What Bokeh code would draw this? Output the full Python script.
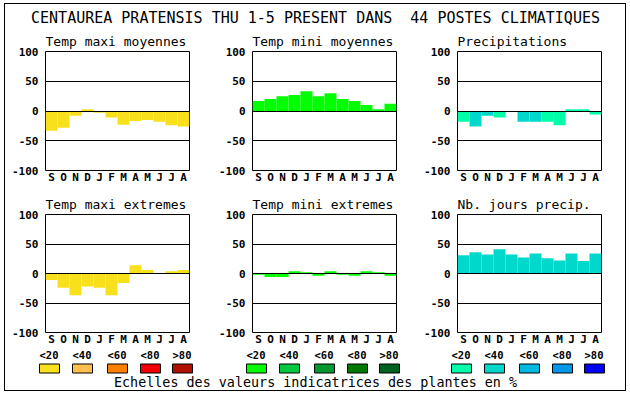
from bokeh.plotting import figure
from bokeh.layouts import column, row
from bokeh.models import Range1d, FixedTicker, ColumnDataSource
from bokeh.core.properties import value
from bokeh.embed import file_html
from bokeh.resources import INLINE

# ---------------- data ----------------
MAIN_TITLE = "CENTAUREA PRATENSIS THU 1-5 PRESENT DANS \u00a044 POSTES CLIMATIQUES"
FOOTER = "Echelles des valeurs indicatrices des plantes en %"
MONTHS = ["S", "O", "N", "D", "J", "F", "M", "A", "M", "J", "J", "A"]
Y_TICKS = [-100, -50, 0, 50, 100]
Y_TICK_LABELS = ["-100", "-50", "0", "50", "100"]
LEGEND_LABELS = ["<20", "<40", "<60", "<80", ">80"]

PANEL_TITLES = ["Temp maxi moyennes", "Temp mini moyennes", "Precipitations",
                "Temp maxi extremes", "Temp mini extremes", "Nb. jours precip."]

tmax_moy = [-33, -28, -8, 3, -3, -11, -23, -17, -15, -18, -24, -26]
tmin_moy = [17, 20, 25, 27, 33, 25, 30, 20, 17, 10, 3, 12]
precip = [-18, -26, -8, -11, 0, -18, -18, -18, -24, 3, 3, -6]
tmax_ext = [-11, -24, -37, -22, -24, -37, -16, 14, 6, 0, 4, 6]
tmin_ext = [-2, -6, -6, 4, 2, -4, 4, -2, -4, 4, 2, -4]
nb_jours = [31, 36, 32, 41, 32, 27, 34, 26, 22, 34, 21, 34]

# class (0:<20 1:<40 2:<60 3:<80 4:>80) of each bar
tmax_moy_cls = [0] * 12
tmin_moy_cls = [0] * 12
precip_cls = [0, 1, 1, 0, 0, 1, 1, 0, 0, 0, 0, 0]
tmax_ext_cls = [0] * 12
tmin_ext_cls = [0] * 12
nb_jours_cls = [1] * 12

YELLOWS = ["#F8E01C", "#FFC050", "#FF8000", "#F00000", "#B01000"]
GREENS = ["#00FF00", "#00C840", "#009830", "#007800", "#006020"]
BLUES = ["#00FFA8", "#00D8CC", "#00B8E0", "#0098E8", "#0000FF"]

MONO = value("DejaVu Sans Mono")

# ---------------- layout constants ----------------
COL_W = [207, 205, 208]
LEFT_B = 40
FRAME_W = 144
RIGHT_B = [w - LEFT_B - FRAME_W for w in COL_W]
TOTAL_W = sum(COL_W)
TITLE_H = 24
ROW_H = 160
LEG_H = 42


def panel(title, vals, cls, palette, col, height, top_b, bot_b):
    p = figure(width=COL_W[col], height=height,
               x_range=Range1d(0, len(MONTHS)), y_range=Range1d(Y_TICKS[0], Y_TICKS[-1]),
               output_backend="svg", toolbar_location=None,
               min_border_left=LEFT_B, min_border_right=RIGHT_B[col],
               min_border_top=top_b, min_border_bottom=bot_b,
               title=title)
    p.title.align = "left"
    p.title.text_font = "DejaVu Sans Mono"
    p.title.text_font_size = "13px"
    p.title.text_font_style = "normal"
    p.title.text_color = "black"
    p.title.standoff = 6
    p.title.offset = 0

    xs = [i + 0.5 for i in range(len(MONTHS))]
    src = ColumnDataSource(dict(x=xs, top=vals, color=[palette[c] for c in cls]))
    p.vbar(x="x", top="top", bottom=0, width=1.0, source=src,
           fill_color="color", line_color=None)

    p.outline_line_color = "black"
    p.outline_line_width = 1
    p.outline_line_alpha = 1

    p.xgrid.visible = False
    p.ygrid.ticker = FixedTicker(ticks=Y_TICKS[1:-1])
    p.ygrid.grid_line_color = "black"
    p.ygrid.grid_line_width = 1
    p.ygrid.level = "overlay"

    p.yaxis.ticker = FixedTicker(ticks=Y_TICKS)
    p.yaxis.major_label_overrides = dict(zip(Y_TICKS, Y_TICK_LABELS))
    p.xaxis.ticker = FixedTicker(ticks=xs)
    p.xaxis.major_label_overrides = dict(zip(xs, MONTHS))
    for ax in (p.xaxis[0], p.yaxis[0]):
        ax.axis_line_color = None
        ax.major_tick_line_color = None
        ax.minor_tick_line_color = None
        ax.major_tick_out = 0
        ax.major_tick_in = 0
        ax.major_label_text_font = "DejaVu Sans Mono"
        ax.major_label_text_font_style = "bold"
        ax.major_label_text_font_size = "11px"
        ax.major_label_text_color = "black"
    p.yaxis.major_label_standoff = 7
    p.xaxis.major_label_standoff = 0
    p.background_fill_color = "white"
    p.border_fill_color = "white"
    return p


def strip(height):
    f = figure(width=TOTAL_W, height=height, x_range=Range1d(0, TOTAL_W),
               y_range=Range1d(height, 0), output_backend="svg",
               toolbar_location=None, title=None,
               min_border_left=0, min_border_right=0, min_border_top=0, min_border_bottom=0)
    f.axis.visible = False
    f.grid.visible = False
    f.outline_line_color = None
    return f


# title strip
tf = strip(TITLE_H)
tf.text(x=[TOTAL_W / 2], y=[13.5], text=[MAIN_TITLE], text_font=MONO,
        text_font_size="15px", text_align="center", text_baseline="middle",
        text_color="black")

row1 = row(
    panel(PANEL_TITLES[0], tmax_moy, tmax_moy_cls, YELLOWS, 0, ROW_H, 22, 18),
    panel(PANEL_TITLES[1], tmin_moy, tmin_moy_cls, GREENS, 1, ROW_H, 22, 18),
    panel(PANEL_TITLES[2], precip, precip_cls, BLUES, 2, ROW_H, 22, 18),
)
row2 = row(
    panel(PANEL_TITLES[3], tmax_ext, tmax_ext_cls, YELLOWS, 0, ROW_H, 26, 14),
    panel(PANEL_TITLES[4], tmin_ext, tmin_ext_cls, GREENS, 1, ROW_H, 26, 14),
    panel(PANEL_TITLES[5], nb_jours, nb_jours_cls, BLUES, 2, ROW_H, 26, 14),
)

# legend strip
lf = strip(LEG_H)
SW_OFF = [-6, 27, 62, 95, 127]
col_left = [0, COL_W[0], COL_W[0] + COL_W[1]]
for g, pal in enumerate([YELLOWS, GREENS, BLUES]):
    lefts = [col_left[g] + LEFT_B + o for o in SW_OFF]
    lf.quad(left=lefts, right=[l + 20 for l in lefts], top=[15.5] * 5, bottom=[24.5] * 5,
            fill_color=pal, line_color="black", line_width=1)
    lf.text(x=lefts, y=[6] * 5, text=LEGEND_LABELS, text_font=MONO,
            text_font_size="10.5px", text_font_style="bold", text_align="left",
            text_baseline="middle", text_color="black")
lf.text(x=[TOTAL_W / 2], y=[33.5], text=[FOOTER], text_font=MONO,
        text_font_size="13.4px", text_align="center", text_baseline="middle",
        text_color="black")

layout = column(tf, row1, row2, lf,
                styles={"border": "1px solid black", "margin-left": "4px", "margin-top": "3px"})

open("out.html", "w").write(file_html(layout, INLINE))
